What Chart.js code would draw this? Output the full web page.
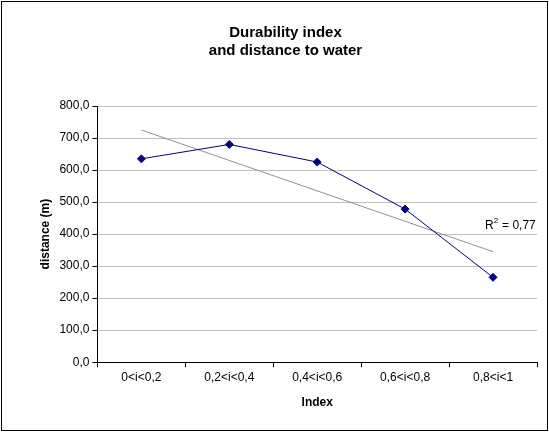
<!DOCTYPE html>
<html><head><meta charset="utf-8">
<script src="https://cdn.jsdelivr.net/npm/chart.js@4"></script>
<style>
html,body{margin:0;padding:0;background:#fff;}
#wrap{position:absolute;left:1px;top:1px;width:545px;height:428px;border:1px solid #000;}
</style></head>
<body><div id="wrap"><canvas id="c" width="545" height="428"></canvas></div>
<script>
// chart data
var categories = ['0<i<0,2', '0,2<i<0,4', '0,4<i<0,6', '0,6<i<0,8', '0,8<i<1'];
var distances = [635, 680, 625, 478, 265];
var trend = [725, null, null, null, 345];
var yTicks = [0, 100, 200, 300, 400, 500, 600, 700, 800];

// R² label next to the trendline
var r2Label = {
    id: 'r2Label',
    afterDatasetsDraw: function (chart) {
        var ctx = chart.ctx;
        var x = chart.scales.x.getPixelForValue(4) - 8;
        var y = chart.scales.y.getPixelForValue(425);
        ctx.save();
        ctx.font = '12px Arial, "Liberation Sans"';
        ctx.fillStyle = '#000';
        ctx.textBaseline = 'middle';
        ctx.fillText('R', x, y);
        var w = ctx.measureText('R').width;
        ctx.font = '8px Arial, "Liberation Sans"';
        ctx.fillText('2', x + w, y - 5);
        ctx.font = '12px Arial, "Liberation Sans"';
        ctx.fillText(' = 0,77', x + w + 5, y);
        ctx.restore();
    }
};

new Chart(document.getElementById('c'), {
    type: 'line',
    data: {
        labels: categories,
        datasets: [
            {
                data: distances,
                borderColor: '#000080',
                backgroundColor: '#000080',
                borderWidth: 1,
                pointStyle: 'rectRot',
                pointRadius: 4,
                tension: 0
            },
            {
                data: trend,
                borderColor: '#909090',
                borderWidth: 1,
                pointRadius: 0,
                spanGaps: true
            }
        ]
    },
    options: {
        responsive: false,
        animation: false,
        layout: { padding: { left: 32, right: 10, top: 4, bottom: 16 } },
        plugins: {
            legend: { display: false },
            tooltip: { enabled: false },
            title: {
                display: true,
                text: ['Durability index', 'and distance to water'],
                color: '#000',
                font: { family: 'Arial, "Liberation Sans"', size: 15, weight: 'bold' },
                padding: { top: 18, bottom: 46 }
            }
        },
        scales: {
            x: {
                offset: true,
                grid: { offset: true, drawOnChartArea: false, color: '#000', tickLength: 5 },
                border: { color: '#000' },
                ticks: { color: '#000', font: { family: 'Arial, "Liberation Sans"', size: 12 }, maxRotation: 0 },
                title: { display: true, text: 'Index', color: '#000', font: { family: 'Arial, "Liberation Sans"', size: 12, weight: 'bold' }, padding: { top: 8 } }
            },
            y: {
                min: 0, max: 800,
                afterBuildTicks: function (axis) { axis.ticks = yTicks.map(function (v) { return { value: v }; }); },
                grid: { color: '#c0c0c0', tickLength: 5, tickColor: '#000' },
                border: { color: '#000' },
                ticks: {
                    color: '#000',
                    font: { family: 'Arial, "Liberation Sans"', size: 12 },
                    callback: function (v) { return v.toFixed(1).replace('.', ','); }
                },
                title: { display: true, text: 'distance (m)', color: '#000', font: { family: 'Arial, "Liberation Sans"', size: 12, weight: 'bold' }, padding: { bottom: 4 } }
            }
        }
    },
    plugins: [r2Label]
});
</script></body></html>
